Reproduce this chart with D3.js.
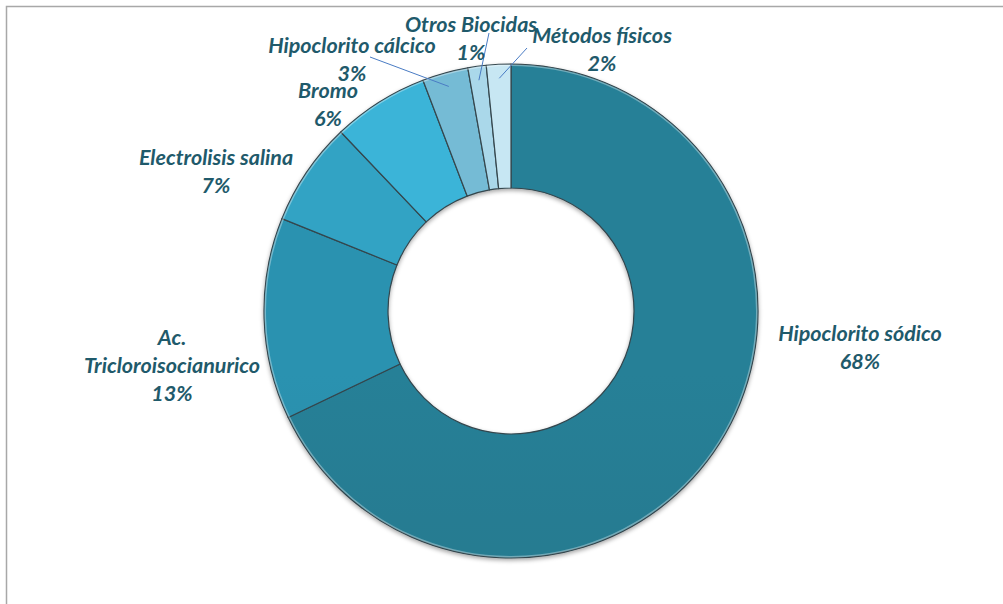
<!DOCTYPE html>
<html><head><meta charset="utf-8">
<script src="https://cdn.jsdelivr.net/npm/d3@7"></script>
<style>body{margin:0;background:#fff;overflow:hidden}</style>
</head><body><svg id="c" width="1003" height="604"></svg>
<script>
const categories = ["Hipoclorito sódico","Ac. Tricloroisocianurico","Electrolisis salina","Bromo","Hipoclorito cálcico","Otros Biocidas","Métodos físicos"];
const values = [67.9, 13.2, 6.8, 6.3, 3.0, 1.2, 1.6];
const labelLines = [["Hipoclorito sódico"],["Ac.","Tricloroisocianurico"],["Electrolisis salina"],["Bromo"],["Hipoclorito cálcico"],["Otros Biocidas"],["Métodos físicos"]];
const colors = ["#267b91","#2a8ca9","#309cbc","#38accf","#6fb3cc","#a3cfe0","#bfdde9"];

// layout (not data): label center x & first baseline y, leader line start
const labelPos = [[860,341],[172,345],[216,165],[328,98],[352,53],[471,32],[602,43]];
const leaderStart = [null,null,null,null,[370,57],[489,33],[527,48]];

const cx = 511, cy = 311, rOut = 247, rIn = 123;
const svg = d3.select("#c");
const defs = svg.append("defs");

svg.append("rect").attr("x",6.5).attr("y",6.5).attr("width",1100).attr("height",700)
  .attr("fill","#fff").attr("stroke","#a8a8a8").attr("stroke-width",1.5);

colors.forEach((c,i)=>{
  const g = defs.append("linearGradient").attr("id","g"+i)
    .attr("gradientUnits","userSpaceOnUse").attr("x1",0).attr("y1",cy-rOut).attr("x2",0).attr("y2",cy+rOut);
  g.append("stop").attr("offset","0").attr("stop-color",d3.color(c).brighter(0.12));
  g.append("stop").attr("offset","1").attr("stop-color",d3.color(c).darker(0.22));
});
const f = defs.append("filter").attr("id","sh").attr("x","-10%").attr("y","-10%").attr("width","120%").attr("height","120%");
f.append("feDropShadow").attr("dx",0).attr("dy",2).attr("stdDeviation",2).attr("flood-color","#000").attr("flood-opacity",0.35);

const total = d3.sum(values);
const pie = d3.pie().sort(null).value(d=>d);
const arcs = pie(values);
const arc = d3.arc().innerRadius(rIn).outerRadius(rOut);

const g = svg.append("g").attr("transform",`translate(${cx},${cy})`);
g.append("g").attr("filter","url(#sh)").selectAll("path").data(arcs).join("path")
  .attr("d",arc).attr("fill",(d,i)=>`url(#g${i})`)
  .attr("stroke","#34464d").attr("stroke-width",1.2).attr("stroke-linejoin","round");
// highlight rims
g.selectAll("path.hl").data(arcs).join("path").attr("class","hl")
  .attr("d",d3.arc().innerRadius(rOut-2).outerRadius(rOut-0.5))
  .attr("fill","#ffffff").attr("opacity",0.35);

// leader lines
arcs.forEach((d,i)=>{
  if(!leaderStart[i]) return;
  const a = (d.startAngle+d.endAngle)/2, r = rOut-14;
  svg.append("line").attr("x1",leaderStart[i][0]).attr("y1",leaderStart[i][1])
    .attr("x2",cx+r*Math.sin(a)).attr("y2",cy-r*Math.cos(a))
    .attr("stroke","#4a7cc4").attr("stroke-width",1);
});

// labels
const lab = svg.append("g").attr("font-family","Lato, 'Open Sans', sans-serif")
  .attr("font-weight","bold").attr("font-style","italic").attr("font-size",21.5)
  .attr("fill","#1f5a6b").attr("text-anchor","middle");
arcs.forEach((d,i)=>{
  const lines = labelLines[i].concat([Math.round(values[i]/total*100)+"%"]);
  const t = lab.append("text").attr("x",labelPos[i][0]).attr("y",labelPos[i][1]);
  lines.forEach((s,j)=>t.append("tspan").attr("x",labelPos[i][0]).attr("dy",j?28:0).text(s));
});
</script></body></html>
